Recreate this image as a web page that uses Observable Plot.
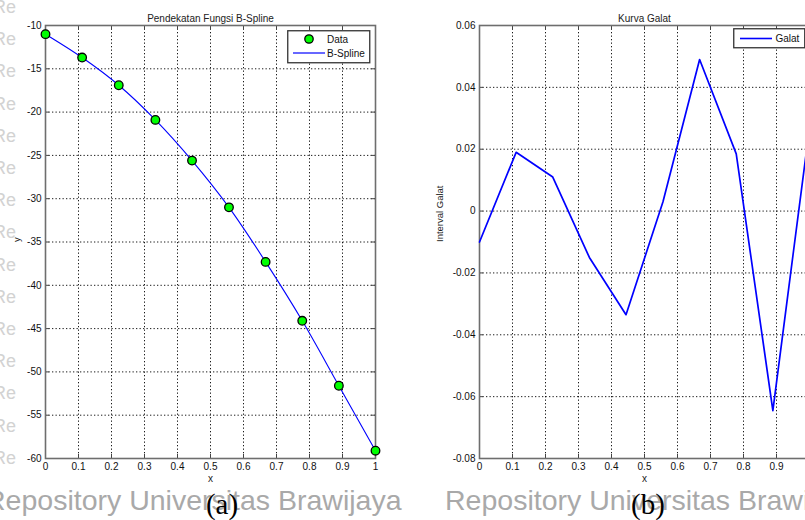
<!DOCTYPE html>
<html>
<head>
<meta charset="utf-8">
<script src="https://cdn.jsdelivr.net/npm/d3@7"></script>
<script src="https://cdn.jsdelivr.net/npm/@observablehq/plot@0.6"></script>
<style>
  html, body { margin: 0; padding: 0; background: #fff; }
  #wrap { position: relative; width: 805px; height: 520px; overflow: hidden; background: #fff; font-family: "Liberation Sans", Arial, sans-serif; }
  #wrap > svg, #wrap > div { position: absolute; }
  #wrap svg { max-width: none !important; }
  .legend text { font: 10px "Liberation Sans", Arial, sans-serif; fill: #111; }
</style>
</head>
<body>
<div id="wrap">
  <svg id="paper" width="805" height="520" style="left:0;top:0"></svg>
  <div id="chartA" style="left:0;top:0;width:400px"></div>
  <div id="chartB" style="left:400px;top:0;width:410px"></div>
  <svg class="legend" width="84" height="34" style="left:287px;top:30px">
    <rect x="0.75" y="0.75" width="82" height="32" fill="#fff" stroke="#333" stroke-width="1.3"></rect>
    <circle cx="22" cy="9" r="4.2" fill="#00ff00" stroke="#000" stroke-width="1.3"></circle>
    <text x="40" y="12.5">Data</text>
    <line x1="6" x2="38" y1="23" y2="23" stroke="#0000ff" stroke-width="1.2"></line>
    <text x="40" y="26.5">B-Spline</text>
  </svg>
  <svg class="legend" width="75" height="21" style="left:733px;top:28px">
    <rect x="0.75" y="0.75" width="71" height="19" fill="#fff" stroke="#333" stroke-width="1.3"></rect>
    <line x1="7" x2="39" y1="10.5" y2="10.5" stroke="#0000ff" stroke-width="1.6"></line>
    <text x="42.5" y="14">Galat</text>
  </svg>
  <svg id="captions" width="805" height="520" style="left:0;top:0;pointer-events:none"></svg>
</div>
<script>
// Sample points (x in [0, 1], 10 nodes)
const xNodes = [0, 0.111, 0.222, 0.333, 0.444, 0.556, 0.667, 0.778, 0.889, 1];
// Data values y(x)
const yData = [-11.0, -13.7, -16.9, -20.9, -25.6, -31.0, -37.3, -44.1, -51.6, -59.1];
// Error of the B-spline approximation at each node
const galat = [-0.010, 0.019, 0.011, -0.015, -0.0335, 0.003, 0.049, 0.0185, -0.0645, 0.027];

// Tick values
const xTicks = [0, 0.1, 0.2, 0.3, 0.4, 0.5, 0.6, 0.7, 0.8, 0.9, 1];
const yTicksA = [-60, -55, -50, -45, -40, -35, -30, -25, -20, -15, -10];
const yTicksB = [-0.08, -0.06, -0.04, -0.02, 0, 0.02, 0.04, 0.06];

// Panel titles and axis labels
const titleA = "Pendekatan Fungsi B-Spline";
const titleB = "Kurva Galat";
const xLabel = "x";
const yLabelA = "y";
const yLabelB = "Interval Galat";

const pointsA = xNodes.map((x, i) => ({x, y: yData[i]}));
const pointsB = xNodes.map((x, i) => ({x, y: galat[i]}));

const fmt = d => String(+d.toFixed(2));
const gridStyle = {stroke: "#000", strokeOpacity: 0.9, strokeDasharray: "1.3,2.2", strokeWidth: 1};
const plotStyle = {
  fontFamily: "'Liberation Sans', Arial, sans-serif",
  fontSize: "10px",
  color: "#000",
  background: "transparent",
  overflow: "visible",
  maxWidth: "none"
};

function panel({width, marginLeft, marginRight, yDomain, yTicks, title, yLabel, yLabelDx, marks}) {
  const H = 500, mt = 25, mb = 42;
  const innerH = H - mt - mb;
  const innerW = width - marginLeft - marginRight;
  return Plot.plot({
    width, height: H, marginLeft, marginRight, marginTop: mt, marginBottom: mb,
    style: plotStyle,
    x: {domain: [0, 1]},
    y: {domain: yDomain},
    marks: [
      Plot.gridX({ticks: xTicks, ...gridStyle}),
      Plot.gridY({ticks: yTicks, ...gridStyle}),
      // short inward tick marks on all four sides
      Plot.ruleX(xTicks, {insetTop: innerH - 4, stroke: "#444"}),
      Plot.ruleX(xTicks, {insetBottom: innerH - 4, stroke: "#444"}),
      Plot.ruleY(yTicks, {insetRight: innerW - 4, stroke: "#444"}),
      Plot.ruleY(yTicks, {insetLeft: innerW - 4, stroke: "#444"}),
      Plot.frame({stroke: "#6e6e6e", strokeWidth: 1.6}),
      Plot.axisX({ticks: xTicks, tickSize: 0, tickPadding: 4, tickFormat: fmt, label: null, fill: "#111"}),
      Plot.axisY({ticks: yTicks, tickSize: 0, tickPadding: 4, tickFormat: fmt, label: null, fill: "#111"}),
      ...marks,
      Plot.text([title], {text: d => d, frameAnchor: "top", dy: -11, fontSize: 10, fill: "#222"}),
      Plot.text([xLabel], {text: d => d, frameAnchor: "bottom", dy: 23, fontSize: 10, fill: "#222"}),
      Plot.text([yLabel], {text: d => d, frameAnchor: "left", dx: yLabelDx, rotate: -90, fontSize: 9.5, fill: "#222"})
    ]
  });
}

document.getElementById("chartA").append(panel({
  width: 400, marginLeft: 45, marginRight: 25,
  yDomain: [-60, -10], yTicks: yTicksA,
  title: titleA, yLabel: yLabelA, yLabelDx: -29,
  marks: [
    Plot.line(pointsA, {x: "x", y: "y", curve: "catmull-rom", stroke: "#0000ff", strokeWidth: 1.1}),
    Plot.dot(pointsA, {x: "x", y: "y", r: 4.3, fill: "#00ff00", stroke: "#000", strokeWidth: 1.3})
  ]
}));

document.getElementById("chartB").append(panel({
  width: 410, marginLeft: 79, marginRight: 1,
  yDomain: [-0.08, 0.06], yTicks: yTicksB,
  title: titleB, yLabel: yLabelB, yLabelDx: -40,
  marks: [
    Plot.line(pointsB, {x: "x", y: "y", stroke: "#0000ff", strokeWidth: 1.7})
  ]
}));

// Page background: repository watermark lines behind the figures
const paper = d3.select("#paper");
const mark = "Repository Universitas Brawijaya";
for (let y = 13; y < 480; y += 32.2) {
  paper.append("text").attr("x", -7).attr("y", y)
    .attr("font-family", "'Liberation Sans', Arial, sans-serif").attr("font-size", 18)
    .attr("fill", "#d2d2d2").text("Re");
}
[-15, 445].forEach(x => {
  paper.append("text").attr("x", x).attr("y", 510)
    .attr("font-family", "'Liberation Sans', Arial, sans-serif").attr("font-size", 28.5)
    .attr("fill", "#a9a9a9").text(mark);
});

// Sub-figure captions
const caps = d3.select("#captions");
[["(a)", 222], ["(b)", 648]].forEach(([t, x]) => {
  caps.append("text").attr("x", x).attr("y", 514).attr("text-anchor", "middle")
    .attr("font-family", "'Liberation Serif', 'Times New Roman', serif").attr("font-size", 29)
    .attr("fill", "#000").text(t);
});
</script>
</body>
</html>
